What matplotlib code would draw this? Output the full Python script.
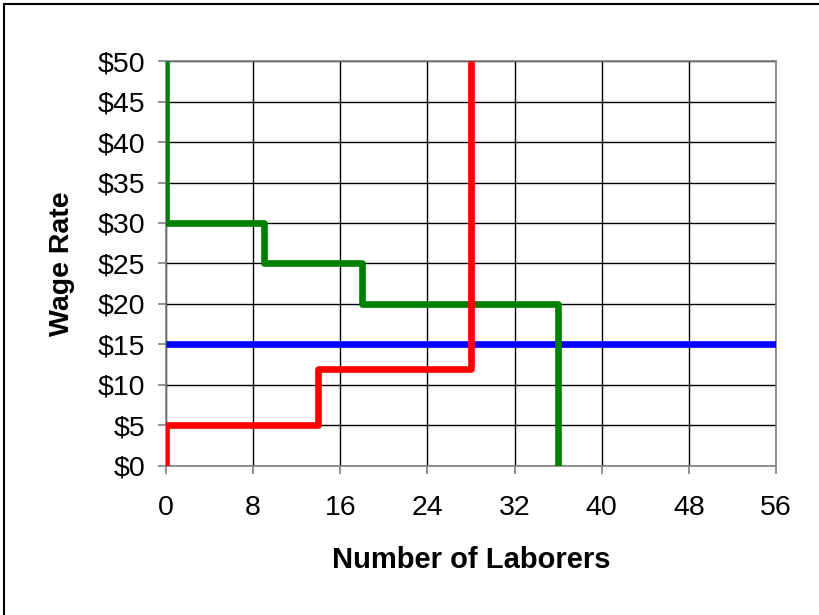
import matplotlib.pyplot as plt
from matplotlib.patches import Rectangle

# data
demand_x = [0, 0, 9, 9, 18, 18, 36, 36]
demand_y = [50, 30, 30, 25, 25, 20, 20, 0]
supply_x = [0, 0, 14, 14, 28, 28]
supply_y = [0, 5, 5, 12, 12, 50]
wage_x = [0, 56]
wage_y = [15, 15]
x_ticks = [0, 8, 16, 24, 32, 40, 48, 56]
y_ticks = [0, 5, 10, 15, 20, 25, 30, 35, 40, 45, 50]

plt.rcParams['font.family'] = ['Liberation Sans', 'DejaVu Sans']

fig = plt.figure(figsize=(8.2, 6.15), dpi=100)
ax = fig.add_axes([0.2024, 0.2423, 0.7439, 0.6585])

ax.plot(wage_x, wage_y, color='#0000ff', lw=4.8, solid_capstyle='butt', zorder=3)
ax.plot(demand_x, demand_y, color='#008000', lw=4.8, solid_capstyle='butt', zorder=4)
ax.plot(supply_x, supply_y, color='#ff0000', lw=4.8, solid_capstyle='butt', zorder=5)

ax.set_xlim(0, 56)
ax.set_ylim(0, 50)
ax.set_xticks(x_ticks)
ax.set_yticks(y_ticks)
ax.set_yticklabels(['$%d' % v for v in y_ticks])
ax.grid(True, color='black', lw=1.0)
ax.set_axisbelow(True)
for s in ax.spines.values():
    s.set_color('#808080')
    s.set_linewidth(1.2)
ax.tick_params(direction='out', length=6, color='#808080', width=1.2,
               labelsize=20.5)
ax.tick_params(axis='x', pad=15)
ax.tick_params(axis='y', pad=9)

ax.set_xlabel('Number of Laborers', fontsize=21, fontweight='bold', va='center')
ax.set_ylabel('Wage Rate', fontsize=20.5, fontweight='bold', va='center')
ax.xaxis.set_label_coords(0.5, -0.232)
ax.yaxis.set_label_coords(-0.171, 0.5)

# outer border of the chart area
fig.patches.append(Rectangle((4 / 820, -0.1), 1.2, 1.1 - 4 / 615,
                             transform=fig.transFigure, fill=False,
                             edgecolor='black', lw=1.5))

fig.savefig('out.png', dpi=100)
